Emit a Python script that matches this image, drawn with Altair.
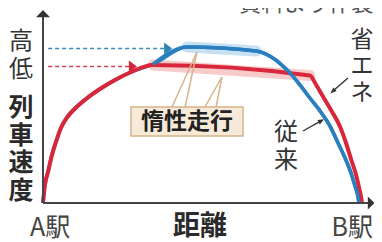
import altair as alt
import pandas as pd

# Distance: A駅 = 0, B駅 = 100 ; speed in arbitrary units (0 = stopped)
red_d = [0, 0.6, 1.6, 2.8, 4.1, 5.6, 7.5, 10, 13.8, 17.8, 22.5, 27.2, 34.4,
         83.4, 85.3, 87.5, 90, 92.8, 94.7, 96.3, 97.8, 98.8, 99.4, 99.7]
red_v = [0, 12, 21, 32, 41, 50, 57, 63, 70, 76, 82, 87, 92,
         85, 79, 71, 62, 51, 40, 29, 19, 10, 4, 0]

blue_d = [0, 0.6, 1.6, 2.8, 4.1, 5.6, 7.5, 10, 13.8, 17.8, 22.5, 27.2, 34.4,
          45, 66.6, 69.7, 72.8, 75.6, 77.8, 80.3, 83.4, 86.6, 89.7, 92.2,
          94.4, 96.25, 97.5, 98.4, 98.75]
blue_v = [0, 12, 21, 32, 41, 50, 57, 63, 70, 76, 82, 87, 92.5,
          104, 101.3, 99.3, 95.3, 90, 85.3, 78.7, 70, 61.3, 51.3, 40,
          30, 20, 11.3, 4.7, 0]

# coasting (惰性走行) stretches
red_coast = [34.4, 83.4]
blue_coast = [45, 66.6]

# top speed levels marked by dashed arrows
red_level = 91
blue_level = 103
red_arrow_end = 27.5
blue_arrow_end = 38.5

FONT = "Noto Sans CJK JP"
xs = alt.Scale(domain=[-10.9375, 103.4375])
ys = alt.Scale(domain=[-26, 130])


def X(f="d"):
    return alt.X(f"{f}:Q", scale=xs, axis=None)


def Y(f="v"):
    return alt.Y(f"{f}:Q", scale=ys, axis=None)


red = pd.DataFrame({"d": red_d, "v": red_v})
blue = pd.DataFrame({"d": blue_d, "v": blue_v})

layers = []

# glows behind coasting segments
red_glow = red[(red.d >= red_coast[0]) & (red.d <= red_coast[1])]
blue_glow = blue[(blue.d >= blue_coast[0]) & (blue.d <= blue_coast[1])]
layers.append(alt.Chart(red_glow).mark_line(color="#f6b9b9", strokeWidth=11, opacity=0.75,
                                            strokeCap="round").encode(x=X(), y=Y()))
layers.append(alt.Chart(blue_glow).mark_line(color="#b9d8f0", strokeWidth=11, opacity=0.8,
                                             strokeCap="round").encode(x=X(), y=Y()))

# lines
layers.append(alt.Chart(blue).mark_line(color="#2a7fc0", strokeWidth=3.5,
                                        interpolate="monotone").encode(x=X(), y=Y()))
layers.append(alt.Chart(red).mark_line(color="#d8263a", strokeWidth=4,
                                       interpolate="monotone").encode(x=X(), y=Y()))
layers.append(alt.Chart(blue[blue.d >= 34.4]).mark_line(color="#2a7fc0", strokeWidth=3.5,
                                                        interpolate="monotone").encode(x=X(), y=Y()))

# dashed level arrows
dash = pd.DataFrame({"d": [1.6, 1.6], "d2": [blue_arrow_end, red_arrow_end],
                     "v": [blue_level, red_level], "c": ["#3a8cb8", "#d3404f"]})
layers.append(alt.Chart(dash).mark_rule(strokeWidth=1.6, strokeDash=[4, 3]).encode(
    x=X(), x2="d2:Q", y=Y(), color=alt.Color("c:N", scale=None)))
heads = pd.DataFrame({"d": [blue_arrow_end + 0.6, red_arrow_end + 0.6],
                      "v": [blue_level, red_level], "c": ["#2e86b0", "#d3283c"]})
layers.append(alt.Chart(heads).mark_point(shape="M-0.67,-1L0.67,0L-0.67,1Z", size=144,
                                          filled=True, opacity=1).encode(
    x=X(), y=Y(), color=alt.Color("c:N", scale=None)))

# axes
axes = pd.DataFrame({"d": [0, 0], "v": [0, 0], "d2": [0, 102], "v2": [124, 0]})
layers.append(alt.Chart(axes).mark_rule(color="#444", strokeWidth=2).encode(
    x=X(), y=Y(), x2="d2:Q", y2="v2:Q"))
layers.append(alt.Chart(pd.DataFrame({"d": [0], "v": [124]})).mark_point(
    shape="M-1,0.05L0,-1L1,0.05Z", size=196, filled=True, opacity=1, color="#333").encode(x=X(), y=Y()))
layers.append(alt.Chart(pd.DataFrame({"d": [101.6], "v": [0]})).mark_point(
    shape="M-0.05,-1L1,0L-0.05,1Z", size=169, filled=True, opacity=1, color="#333").encode(x=X(), y=Y()))

# callout wedges + box
wedge = pd.DataFrame({"d": [40.3, 44.4, 50.6, 54.1], "v": [64, 64, 64, 64],
                      "d2": [48.1, 48.1, 55.9, 55.9], "v2": [100.7, 100.7, 84, 84]})
layers.append(alt.Chart(wedge).mark_rule(color="#d6b389", strokeWidth=1.5).encode(
    x=X(), y=Y(), x2="d2:Q", y2="v2:Q"))
box = pd.DataFrame({"d": [27.5], "d2": [62.5], "v": [44.7], "v2": [64]})
layers.append(alt.Chart(box).mark_rect(fill="#f8ead8", stroke="#d6b389", strokeWidth=1.5).encode(
    x=X(), x2="d2:Q", y=Y(), y2="v2:Q"))

# pointer arrows for 省エネ / 従来
ptr = pd.DataFrame({"d": [95.3, 81.25], "v": [83.3, 48], "d2": [90.8, 86.6], "v2": [75, 54.4]})
layers.append(alt.Chart(ptr).mark_rule(color="#333", strokeWidth=1.4).encode(
    x=X(), y=Y(), x2="d2:Q", y2="v2:Q"))
ptr_head = pd.DataFrame({"d": [90.6, 86.9], "v": [74.6, 54.7], "a": [229, 62]})
layers.append(alt.Chart(ptr_head).mark_point(shape="M0,-1L0.7,0.8L-0.7,0.8Z", size=49,
                                             filled=True, opacity=1, color="#333").encode(
    x=X(), y=Y(), angle=alt.Angle("a:Q", scale=None)))


def label(d, v, text, size, color="#333", weight="normal", align="center",
          baseline="middle", lh=None):
    kw = dict(font=FONT, fontSize=size, color=color, fontWeight=weight,
              align=align, baseline=baseline)
    if lh is not None:
        kw.update(lineBreak="\n", lineHeight=lh)
    return alt.Chart(pd.DataFrame({"d": [d], "v": [v], "t": [text]})).mark_text(**kw).encode(
        x=X(), y=Y(), text="t:N")


layers += [
    label(45, 54, "惰性走行", 23, color="#222", weight="bold"),
    label(103.3, 128, "資料より作製", 22.5, color="#555", align="right", baseline="alphabetic"),
    label(-6.9, 107.3, "高\n低", 24, color="#333", lh=28),
    label(-6.9, 63.3, "列\n車\n速\n度", 25, color="#2a2a2a", weight="bold", lh=27.5),
    label(99.7, 108.7, "省\nエ\nネ", 23, color="#333", lh=26.5),
    label(75.9, 46.7, "従\n来", 24, color="#333", lh=28),
    label(2.2, -16.5, "A駅", 25, color="#444"),
    label(49.1, -16, "距離", 27, color="#2a2a2a", weight="bold"),
    label(103.1, -16.5, "B駅", 25, color="#444", align="right"),
]

chart = alt.layer(*layers).properties(
    width=366, height=234, autosize=alt.AutoSizeParams(type="none"), padding=0,
    background="white"
).configure_view(stroke=None)

chart.save("out.html", embed_options={"renderer": "svg", "actions": False})
